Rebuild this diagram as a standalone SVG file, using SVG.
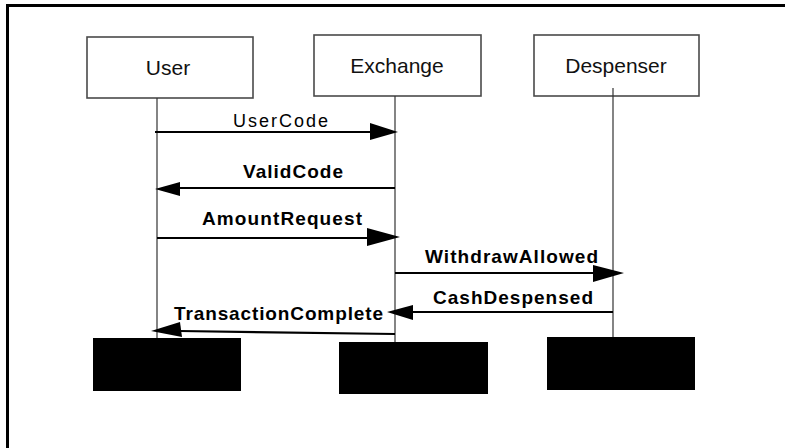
<svg xmlns="http://www.w3.org/2000/svg" width="785" height="448" viewBox="0 0 785 448">
  <style>
    .frame { fill: none; stroke: #000; stroke-width: 3; }
    .obj rect.head { fill: #fff; stroke: #4a4a4a; stroke-width: 1.6; }
    .obj rect.foot { fill: #000; }
    .obj text { font-family: "Liberation Sans", Arial, sans-serif; font-size: 21px; fill: #111; text-anchor: middle; }
    .life { stroke: #333; stroke-width: 1.2; fill: none; }
    .msg { stroke: #000; stroke-width: 2.2; fill: none; }
    .head-tri { fill: #000; }
    .lbl { font-family: "Liberation Sans", Arial, sans-serif; font-size: 19px; font-weight: bold; fill: #000; }
    .lbl.plain { font-size: 18px; font-weight: normal; }
  </style>

  <rect width="785" height="448" fill="#fff"/>
  <!-- page frame, only its top and left edges fall inside the view -->
  <path class="frame" d="M7.5,448 V5.5 H785"/>

  <g id="user" class="obj">
    <rect class="head" x="87" y="37" width="166" height="61"/>
    <text x="168" y="75">User</text>
    <line class="life" x1="157" y1="98" x2="157" y2="338"/>
    <rect class="foot" x="93" y="338" width="148" height="53"/>
  </g>

  <g id="exchange" class="obj">
    <rect class="head" x="314" y="35" width="167" height="61"/>
    <text x="397" y="73">Exchange</text>
    <line class="life" x1="395" y1="96" x2="395" y2="342"/>
    <rect class="foot" x="339" y="342" width="149" height="52"/>
  </g>

  <g id="despenser" class="obj">
    <rect class="head" x="534" y="35" width="165" height="61"/>
    <text x="616" y="73">Despenser</text>
    <line class="life" x1="613" y1="88" x2="613" y2="337"/>
    <rect class="foot" x="547" y="337" width="148" height="53"/>
  </g>

  <g id="messages">
    <!-- UserCode -->
    <line class="msg" x1="155" y1="132" x2="372" y2="132"/>
    <polygon class="head-tri" points="370,123 398,132 370,140"/>
    <text class="lbl plain" x="233" y="127" textLength="95" lengthAdjust="spacing">UserCode</text>

    <!-- ValidCode -->
    <line class="msg" x1="395" y1="188" x2="178" y2="188"/>
    <polygon class="head-tri" points="180,182 155,189 180,196"/>
    <text class="lbl" x="243" y="178" textLength="100" lengthAdjust="spacing">ValidCode</text>

    <!-- AmountRequest -->
    <line class="msg" x1="157" y1="238" x2="370" y2="238"/>
    <polygon class="head-tri" points="367,228 400,237 367,246"/>
    <text class="lbl" x="202" y="225" textLength="160" lengthAdjust="spacing">AmountRequest</text>

    <!-- WithdrawAllowed -->
    <line class="msg" x1="395" y1="273" x2="595" y2="273"/>
    <polygon class="head-tri" points="593,265 624,273 593,282"/>
    <text class="lbl" x="425" y="263" textLength="173" lengthAdjust="spacing">WithdrawAllowed</text>

    <!-- CashDespensed -->
    <line class="msg" x1="613" y1="312" x2="410" y2="312"/>
    <polygon class="head-tri" points="413,305 387,312 413,320"/>
    <text class="lbl" x="433" y="304" textLength="160" lengthAdjust="spacing">CashDespensed</text>

    <!-- TransactionComplete -->
    <line class="msg" x1="395" y1="334" x2="180" y2="331"/>
    <polygon class="head-tri" points="180,322 151,331 182,337"/>
    <text class="lbl" x="174" y="320" textLength="209" lengthAdjust="spacing">TransactionComplete</text>
  </g>
</svg>
